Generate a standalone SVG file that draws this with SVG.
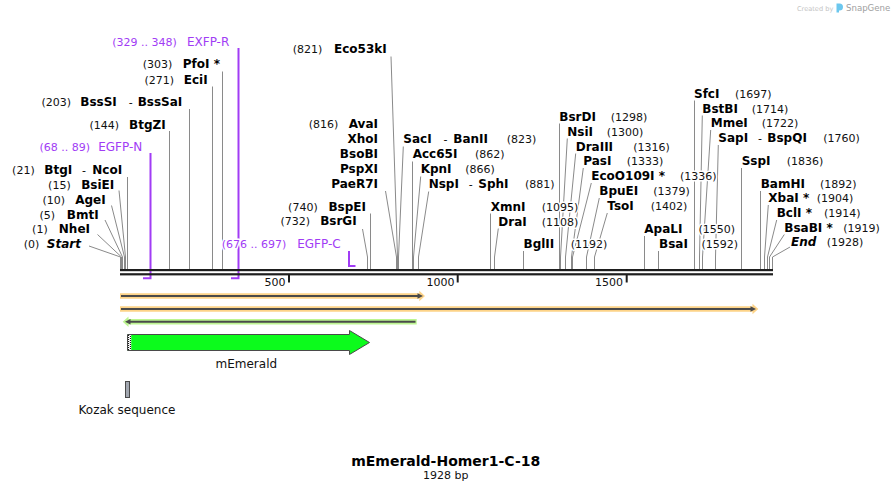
<svg xmlns="http://www.w3.org/2000/svg" width="894" height="492" viewBox="0 0 894 492">
<style>
text{font-family:"DejaVu Sans","Verdana",sans-serif;}
.n{font-size:11px;fill:#111;}
.e{font-size:12px;font-weight:bold;fill:#000;}
.d{font-size:11px;font-weight:normal;}
.i{font-style:italic;}
.p{font-size:11px;fill:#a13cf5;}
.pn{font-size:12px;fill:#a13cf5;}
.h{paint-order:stroke;stroke:#fff;stroke-width:3px;stroke-linejoin:round;}
.r{text-anchor:end;}
.c polyline{fill:none;stroke:#8a8a8a;stroke-width:1;}
.pr{fill:none;stroke:#a13cf5;stroke-width:2;}
.tk{font-size:11px;fill:#111;text-anchor:end;}
</style>
<rect width="894" height="492" fill="#fff"/>

<g id="logo">
<text x="797" y="10.5" font-size="6.6" fill="#c4c4c4">Created by</text>
<path d="M836.5,3.5 h3 a3.5,3.5 0 0 1 0,7 h-0.5 v2 h-2.5 z" fill="#6cc7ee"/>
<text x="846" y="11" font-size="8.6" fill="#a0a0a0">SnapGene</text>
</g>

<g id="connectors" class="c">
<polyline points="89,246 120.5,257 120.5,269"/>
<polyline points="97.5,234.5 121.5,257 121.5,269"/>
<polyline points="105,220 122.5,257 122.5,269"/>
<polyline points="111.5,205.5 124.5,257 124.5,269"/>
<polyline points="119,190.5 125.5,257 125.5,269"/>
<polyline points="127.5,177 127.5,269"/>
<polyline points="169.5,131 169.5,269"/>
<polyline points="189.5,109 189.5,269"/>
<polyline points="212.5,86.5 212.5,269"/>
<polyline points="222.5,71.5 222.5,269"/>
<polyline points="391,56.5 397.5,257 397.5,269"/>
<polyline points="385.5,191 396.5,257 396.5,269"/>
<polyline points="362.5,229 367.5,257 367.5,269"/>
<polyline points="370.5,213.5 370.5,269"/>
<polyline points="403.3,146.5 398.5,257 398.5,269"/>
<polyline points="412.5,161.5 412.5,269"/>
<polyline points="420.7,176.5 413.5,257 413.5,269"/>
<polyline points="428.7,191.5 418.5,257 418.5,269"/>
<polyline points="490.5,213.5 490.5,269"/>
<polyline points="498.3,228.5 494.5,257 494.5,269"/>
<polyline points="523.5,251 523.5,269"/>
<polyline points="559.5,123.5 559.5,269"/>
<polyline points="567.3,138.5 560.5,257 560.5,269"/>
<polyline points="575.7,153.5 565.5,257 565.5,269"/>
<polyline points="583.3,168 571.5,257 571.5,269"/>
<polyline points="591.3,183 572.5,257 572.5,269"/>
<polyline points="599.3,198 586.5,257 586.5,269"/>
<polyline points="607.3,213 594.5,257 594.5,269"/>
<polyline points="644.5,236 644.5,269"/>
<polyline points="658.5,251 658.5,269"/>
<polyline points="694.5,100.5 694.5,269"/>
<polyline points="702.3,115.5 699.5,257 699.5,269"/>
<polyline points="710.7,130 702.5,257 702.5,269"/>
<polyline points="718.3,145 715.5,257 715.5,269"/>
<polyline points="741.5,168 741.5,269"/>
<polyline points="760.5,191 760.5,269"/>
<polyline points="768.3,205 764.5,257 764.5,269"/>
<polyline points="776.7,220 767.5,257 767.5,269"/>
<polyline points="784.3,234.5 769.5,257 769.5,269"/>
<polyline points="790,247 772.5,257 772.5,269"/>
</g>

<g id="primer-EGFP-N">
<polyline class="pr" points="150.5,153 150.5,278.3 143,278.3"/>
<text class="p r h" x="90" y="151">(68 .. 89)</text>
<text class="pn r h" x="142.3" y="151">EGFP-N</text>
</g>
<g id="primer-EXFP-R">
<polyline class="pr" points="238.5,48 238.5,278.3 231,278.3"/>
<text class="p r h" x="176.7" y="45.7">(329 .. 348)</text>
<text class="pn r h" x="229.3" y="45.7">EXFP-R</text>
</g>
<g id="primer-EGFP-C">
<polyline class="pr" points="349,251 349,266 355.5,266"/>
<text class="p h" x="221.7" y="248.3">(676 .. 697)</text>
<text class="pn r h" x="340.7" y="248.3">EGFP-C</text>
</g>

<g id="backbone">
<rect x="120" y="269" width="653" height="2.2" fill="#1e1e1e"/>
<rect x="120" y="273.2" width="653" height="2.2" fill="#1e1e1e"/>
<rect x="288" y="275" width="2" height="7.5" fill="#1e1e1e"/>
<rect x="456.7" y="275" width="2" height="7.5" fill="#1e1e1e"/>
<rect x="625.7" y="275" width="2" height="7.5" fill="#1e1e1e"/>
<text class="tk" x="285.5" y="285.7">500</text>
<text class="tk" x="454.5" y="285.7">1000</text>
<text class="tk" x="623" y="285.7">1500</text>
</g>

<g id="lbl-Start"><text class="n r h" x="39.3" y="248.3">(0)</text><text class="e i r h" x="81" y="248.3">Start</text></g>
<g id="lbl-NheI"><text class="n r h" x="47.7" y="233.3">(1)</text><text class="e r h" x="90" y="233.3">NheI</text></g>
<g id="lbl-BmtI"><text class="n r h" x="55" y="218.7">(5)</text><text class="e r h" x="98.7" y="218.7">BmtI</text></g>
<g id="lbl-AgeI"><text class="n r h" x="65" y="204">(10)</text><text class="e r h" x="105.7" y="204">AgeI</text></g>
<g id="lbl-BsiEI"><text class="n r h" x="70.7" y="189">(15)</text><text class="e r h" x="114.3" y="189">BsiEI</text></g>
<g id="lbl-BtgI-NcoI"><text class="n r h" x="34.7" y="173.7">(21)</text><text class="e h" y="173.7"><tspan x="44.3">BtgI</tspan><tspan class="d" x="82">-</tspan><tspan x="92.3">NcoI</tspan></text></g>
<g id="lbl-BtgZI"><text class="n r h" x="119" y="129">(144)</text><text class="e r h" x="165.7" y="129">BtgZI</text></g>
<g id="lbl-BssSI-BssSaI"><text class="n r h" x="71" y="105.5">(203)</text><text class="e h" y="105.5"><tspan x="80.3">BssSI</tspan><tspan class="d" x="128.8">-</tspan><tspan x="137.7">BssSaI</tspan></text></g>
<g id="lbl-EciI"><text class="n r h" x="174" y="84">(271)</text><text class="e r h" x="207.7" y="84">EciI</text></g>
<g id="lbl-PfoI"><text class="n r h" x="172.3" y="68.3">(303)</text><text class="e r h" x="220" y="68.3">PfoI *</text></g>

<g id="lbl-Eco53kI"><text class="n r h" x="322.3" y="53.3">(821)</text><text class="e r h" x="386.7" y="53.3">Eco53kI</text></g>
<g id="lbl-AvaI-group">
<text class="n r h" x="338.3" y="128.3">(816)</text>
<text class="e r h" x="378" y="128.3">AvaI</text>
<text class="e r h" x="378" y="143.3">XhoI</text>
<text class="e r h" x="378" y="158.3">BsoBI</text>
<text class="e r h" x="378" y="173.3">PspXI</text>
<text class="e r h" x="378" y="188.3">PaeR7I</text>
</g>
<g id="lbl-BspEI"><text class="n r h" x="317.7" y="210.7">(740)</text><text class="e r h" x="366" y="210.7">BspEI</text></g>
<g id="lbl-BsrGI"><text class="n r h" x="310" y="225">(732)</text><text class="e r h" x="356.7" y="225">BsrGI</text></g>

<g id="lbl-SacI-BanII"><text class="e h" y="143.3"><tspan x="403.3">SacI</tspan><tspan class="d" x="443.5">-</tspan><tspan x="453.3">BanII</tspan></text><text class="n h" x="506.7" y="143.3">(823)</text></g>
<g id="lbl-Acc65I"><text class="e h" x="412.7" y="158.3">Acc65I</text><text class="n h" x="475" y="158.3">(862)</text></g>
<g id="lbl-KpnI"><text class="e h" x="420.7" y="173.3">KpnI</text><text class="n h" x="465.3" y="173.3">(866)</text></g>
<g id="lbl-NspI-SphI"><text class="e h" y="188.3"><tspan x="428.7">NspI</tspan><tspan class="d" x="468.8">-</tspan><tspan x="478.3">SphI</tspan></text><text class="n h" x="525" y="188.3">(881)</text></g>
<g id="lbl-XmnI"><text class="e h" x="490.7" y="210.7">XmnI</text><text class="n h" x="541.7" y="210.7">(1095)</text></g>
<g id="lbl-DraI"><text class="e h" x="498.3" y="225.5">DraI</text><text class="n h" x="541.7" y="225.5">(1108)</text></g>
<g id="lbl-BglII"><text class="e h" x="523.5" y="248.3">BglII</text><text class="n h" x="570.7" y="248.3">(1192)</text></g>
<g id="lbl-BsrDI"><text class="e h" x="559.3" y="120.7">BsrDI</text><text class="n h" x="610.7" y="120.7">(1298)</text></g>
<g id="lbl-NsiI"><text class="e h" x="567.3" y="135.7">NsiI</text><text class="n h" x="606.7" y="135.7">(1300)</text></g>
<g id="lbl-DraIII"><text class="e h" x="575.7" y="150.7">DraIII</text><text class="n h" x="633.3" y="150.7">(1316)</text></g>
<g id="lbl-PasI"><text class="e h" x="583.3" y="165.3">PasI</text><text class="n h" x="626.7" y="165.3">(1333)</text></g>
<g id="lbl-EcoO109I"><text class="e h" x="591.3" y="180">EcoO109I *</text><text class="n h" x="680" y="180">(1336)</text></g>
<g id="lbl-BpuEI"><text class="e h" x="599.3" y="195">BpuEI</text><text class="n h" x="653.3" y="195">(1379)</text></g>
<g id="lbl-TsoI"><text class="e h" x="607.3" y="210">TsoI</text><text class="n h" x="650.7" y="210">(1402)</text></g>
<g id="lbl-ApaLI"><text class="e h" x="644.3" y="233.3">ApaLI</text><text class="n h" x="698.5" y="233.3">(1550)</text></g>
<g id="lbl-BsaI"><text class="e h" x="659" y="248.3">BsaI</text><text class="n h" x="701.5" y="248.3">(1592)</text></g>
<g id="lbl-SfcI"><text class="e h" x="694" y="97.7">SfcI</text><text class="n h" x="735" y="97.7">(1697)</text></g>
<g id="lbl-BstBI"><text class="e h" x="702.3" y="112.7">BstBI</text><text class="n h" x="751.7" y="112.7">(1714)</text></g>
<g id="lbl-MmeI"><text class="e h" x="710.7" y="127">MmeI</text><text class="n h" x="761.7" y="127">(1722)</text></g>
<g id="lbl-SapI-BspQI"><text class="e h" y="142"><tspan x="718.3">SapI</tspan><tspan class="d" x="758">-</tspan><tspan x="767.3">BspQI</tspan></text><text class="n h" x="823.3" y="142">(1760)</text></g>
<g id="lbl-SspI"><text class="e h" x="741.7" y="165">SspI</text><text class="n h" x="786.7" y="165">(1836)</text></g>
<g id="lbl-BamHI"><text class="e h" x="760.7" y="188.3">BamHI</text><text class="n h" x="820" y="188.3">(1892)</text></g>
<g id="lbl-XbaI"><text class="e h" x="768.3" y="202.3">XbaI *</text><text class="n h" x="816.7" y="202.3">(1904)</text></g>
<g id="lbl-BclI"><text class="e h" x="776.7" y="217">BclI *</text><text class="n h" x="824" y="217">(1914)</text></g>
<g id="lbl-BsaBI"><text class="e h" x="784.3" y="231.7">BsaBI *</text><text class="n h" x="843.3" y="231.7">(1919)</text></g>
<g id="lbl-End"><text class="e i h" x="791" y="246">End</text><text class="n h" x="826.7" y="246">(1928)</text></g>

<g id="feature-orange1">
<path d="M120,293.3 H419.3 V290.7 L425,296 L419.3,301.3 V298.7 H120 Z" fill="#fdd388"/>
<line x1="121" y1="296" x2="418" y2="296" stroke="#4a4a4a" stroke-width="2"/>
<path d="M417.5,293.3 L423,296 L417.5,298.7 Z" fill="#4a4a4a"/>
</g>
<g id="feature-orange2">
<path d="M120,306.3 H752.5 V303.7 L758.3,309 L752.5,314.3 V311.7 H120 Z" fill="#fdd388"/>
<line x1="121" y1="309" x2="751" y2="309" stroke="#4a4a4a" stroke-width="2"/>
<path d="M750.5,306.3 L756,309 L750.5,311.7 Z" fill="#4a4a4a"/>
</g>
<g id="feature-green">
<path d="M416.7,319 H128.5 V316.5 L122.7,321.7 L128.5,327 V324.4 H416.7 Z" fill="#bdf592"/>
<line x1="415.5" y1="321.7" x2="130" y2="321.7" stroke="#4a4a4a" stroke-width="2"/>
<path d="M130.5,319 L125,321.7 L130.5,324.4 Z" fill="#4a4a4a"/>
</g>
<g id="feature-mEmerald">
<path d="M127.5,334.5 H349.5 V330.5 L369.5,342.5 L349.5,354.5 V350.5 H127.5 Z" fill="#0cfb1c" stroke="#4a4a4a" stroke-width="1"/>
<rect x="128" y="335" width="3.2" height="15" fill="#fff"/>
<line x1="128.6" y1="335" x2="128.6" y2="350" stroke="#000" stroke-width="1" stroke-dasharray="1 1"/>
<line x1="130.4" y1="336" x2="130.4" y2="350" stroke="#000" stroke-width="1" stroke-dasharray="1 1"/>
<text x="246.3" y="367.7" font-size="12" fill="#111" text-anchor="middle">mEmerald</text>
</g>
<g id="feature-Kozak">
<rect x="125.5" y="381.5" width="4" height="16" fill="#a2a7b0" stroke="#4a4a4a" stroke-width="1"/>
<text x="127" y="414.3" font-size="12" fill="#111" text-anchor="middle">Kozak sequence</text>
</g>

<g id="title">
<text x="445.7" y="466" font-size="14" font-weight="bold" fill="#000" text-anchor="middle">mEmerald-Homer1-C-18</text>
<text x="445.7" y="478.5" font-size="11" fill="#111" text-anchor="middle">1928 bp</text>
</g>
</svg>
